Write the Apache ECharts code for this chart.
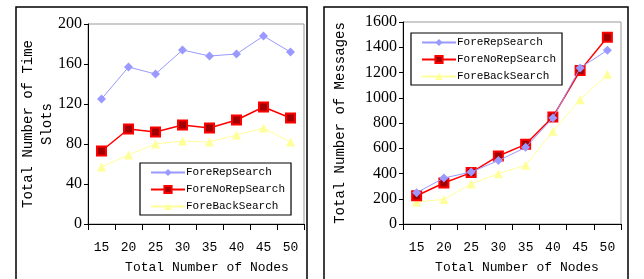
<!DOCTYPE html>
<html>
<head>
<meta charset="utf-8">
<script src="https://cdn.jsdelivr.net/npm/echarts@6/dist/echarts.min.js"></script>
<style>
  html, body { margin: 0; padding: 0; background: #fff; }
  #left, #right { position: absolute; top: 0; width: 322px; height: 279px; }
  #left { left: 0; }
  #right { left: 322px; }
</style>
</head>
<body>
<div id="left"></div>
<div id="right"></div>
<script>
var nodes = ['15', '20', '25', '30', '35', '40', '45', '50'];
var seriesNames = ['ForeRepSearch', 'ForeNoRepSearch', 'ForeBackSearch'];

// left chart: total number of time slots
var slotsRep = [125, 157, 150, 174, 168, 170, 188, 172];
var slotsNoRep = [73, 95, 92, 99, 96, 104, 117, 106];
var slotsBack = [57, 69, 80, 83, 82, 89, 96, 82];

// right chart: total number of messages
var msgRep = [248, 364, 412, 502, 607, 840, 1236, 1376];
var msgNoRep = [224, 325, 407, 539, 631, 848, 1215, 1479];
var msgBack = [174, 195, 317, 399, 465, 734, 985, 1186];

var monoFont = 'Liberation Mono';
var serifFont = 'Liberation Serif';

var styles = [
    {color: '#9999ff', symbol: 'diamond', symbolSize: 9, lineWidth: 1},
    {color: '#ff0000', symbol: 'rect', symbolSize: 9, lineWidth: 1.5, fill: '#a00000'},
    {color: '#ffff99', symbol: 'triangle', symbolSize: 9, lineWidth: 1}
];

function makeSeries(values) {
    return values.map(function (vals, i) {
        var s = styles[i];
        return {
            name: seriesNames[i],
            type: 'line',
            data: vals,
            symbol: s.symbol,
            symbolSize: s.symbolSize,
            z: 10 - i,
            lineStyle: {color: s.color, width: s.lineWidth},
            itemStyle: {
                color: s.fill || s.color,
                borderColor: s.color,
                borderWidth: s.fill ? 2 : 0
            }
        };
    });
}

function makeOption(cfg) {
    return {
        animation: false,
        graphic: [{
            type: 'rect',
            shape: cfg.frame,
            style: {fill: 'none', stroke: '#000', lineWidth: 1.5},
            silent: true
        }],
        grid: {
            left: cfg.grid[0], right: cfg.grid[1], top: cfg.grid[2], bottom: cfg.grid[3],
            show: true, borderColor: '#999', borderWidth: 1
        },
        legend: {
            orient: 'vertical',
            left: cfg.legend[0], top: cfg.legend[1],
            itemWidth: 34, itemHeight: 9, itemGap: 6,
            padding: [4, 6, 3, 10],
            borderColor: '#000', borderWidth: 1.2,
            backgroundColor: '#fff',
            textStyle: {fontFamily: monoFont, fontSize: 11, color: '#000', padding: [0, 0, 0, -4]},
            data: seriesNames
        },
        xAxis: {
            type: 'category',
            data: nodes,
            boundaryGap: true,
            name: 'Total Number of Nodes',
            nameLocation: 'middle',
            nameGap: 37,
            nameMoveOverlap: false,
            nameTextStyle: {fontFamily: monoFont, fontSize: 13, color: '#000', padding: [0, 0, 0, cfg.xNameShift]},
            axisLine: {lineStyle: {color: '#000', width: 1}},
            axisTick: {show: true, length: 6, lineStyle: {color: '#000'}},
            axisLabel: {fontFamily: monoFont, fontSize: 13, color: '#000', margin: 17},
            splitLine: {show: false}
        },
        yAxis: {
            type: 'value',
            min: 0,
            max: cfg.yMax,
            interval: cfg.yInterval,
            name: cfg.yName,
            nameLocation: 'middle',
            nameRotate: 90,
            nameGap: cfg.yNameGap,
            nameMoveOverlap: false,
            nameTextStyle: {fontFamily: monoFont, fontSize: 14, color: '#000', lineHeight: 19},
            axisLine: {show: true, lineStyle: {color: '#000', width: 1}},
            axisTick: {show: true, length: 4, lineStyle: {color: '#000'}},
            axisLabel: {
                fontFamily: serifFont, fontSize: 16, color: '#000', margin: 6,
                formatter: function (v) { return String(v); }
            },
            splitLine: {show: false}
        },
        series: makeSeries(cfg.values)
    };
}

var leftChart = echarts.init(document.getElementById('left'));
leftChart.setOption(makeOption({
    frame: {x: 16, y: 7, width: 291, height: 290},
    grid: [88, 18, 24, 55],
    legend: [140, 163],
    xNameShift: 22,
    yMax: 200,
    yInterval: 40,
    yName: 'Total Number of Time\nSlots',
    yNameGap: 31,
    values: [slotsRep, slotsNoRep, slotsBack]
}));

var rightChart = echarts.init(document.getElementById('right'));
rightChart.setOption(makeOption({
    frame: {x: 2, y: 7, width: 304, height: 290},
    grid: [81, 23, 22, 55],
    legend: [89, 33],
    xNameShift: 10,
    yMax: 1600,
    yInterval: 200,
    yName: 'Total Number of Messages',
    yNameGap: 53,
    values: [msgRep, msgNoRep, msgBack]
}));
</script>
</body>
</html>
